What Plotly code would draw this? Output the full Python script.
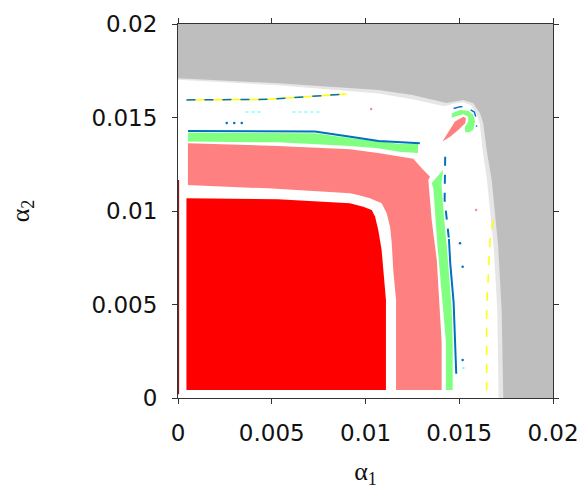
import plotly.graph_objects as go

# ---- region boundaries (alpha1, alpha2) ----
white_x = [0, 0, 0.00533, 0.0107, 0.0125, 0.01433, 0.01468, 0.01522, 0.01575, 0.01611,
           0.01628, 0.01637, 0.01646, 0.01673, 0.01707, 0.01726, 0.01735, 0.01735]
white_y = [0, 0.0171, 0.01683, 0.01647, 0.0162, 0.01578, 0.01584, 0.01594, 0.01576, 0.01522,
           0.01469, 0.01397, 0.01326, 0.01166, 0.00818, 0.00471, 0.0002, 0]

clear_x = [0, 0, 0.00533, 0.0107, 0.0125, 0.0142, 0.01468, 0.01522, 0.01565, 0.01595,
           0.0161, 0.01618, 0.01625, 0.01648, 0.01683, 0.01703, 0.0171, 0.0171]
clear_y = [0, 0.01702, 0.01672, 0.01628, 0.01598, 0.0156, 0.01574, 0.01582, 0.01564, 0.01515,
           0.01462, 0.01392, 0.01322, 0.01164, 0.00816, 0.0047, 0.0002, 0]

green_top_x = [0.00053, 0.0073, 0.00917, 0.01067, 0.0118, 0.0128,
               0.0128, 0.0118, 0.01067, 0.00917, 0.0080, 0.00533, 0.00053]
green_top_y = [0.01419, 0.01416, 0.0139, 0.01372, 0.0136, 0.01358,
               0.0131, 0.01317, 0.01335, 0.01347, 0.01353, 0.01367, 0.01371]

green_right_x = [0.01415, 0.01405, 0.0142, 0.01433, 0.0146, 0.01465, 0.01465,
                 0.01429, 0.01429, 0.01413, 0.01381, 0.01362, 0.01353]
green_right_y = [0.0122, 0.0115, 0.0095, 0.0082, 0.0047, 0.003, 0.00043,
                 0.00043, 0.003, 0.0047, 0.0085, 0.0112, 0.0115]

pink_x = [0.00053, 0.00053, 0.00533, 0.0080, 0.00917, 0.01067, 0.0118, 0.01255, 0.013,
          0.01344, 0.01335, 0.01353, 0.0138, 0.01397, 0.01406, 0.01406]
pink_y = [0.00043, 0.01362, 0.01348, 0.01335, 0.0133, 0.0131, 0.0129, 0.0128, 0.01228,
          0.01183, 0.01166, 0.0095, 0.0074, 0.0047, 0.003, 0.00043]

gap_x = [0.00045, 0.00045, 0.0048, 0.0080, 0.00917, 0.0096, 0.01024, 0.01086, 0.01113,
         0.01131, 0.0114, 0.01148, 0.01163, 0.01163]
gap_y = [0.00043, 0.01139, 0.01121, 0.01103, 0.01095, 0.01086, 0.01068, 0.01041, 0.00988,
         0.00916, 0.00827, 0.00684, 0.00524, 0.00043]

red_x = [0.00045, 0.00045, 0.00533, 0.00747, 0.00917, 0.00988, 0.01033, 0.01051, 0.01068,
         0.01086, 0.01095, 0.01109, 0.01109]
red_y = [0.00043, 0.01068, 0.01063, 0.0105, 0.01041, 0.01023, 0.01005, 0.0097, 0.00898,
         0.00791, 0.00684, 0.00524, 0.00043]

blob_x = [0.01412, 0.01477, 0.01522, 0.01536, 0.01531, 0.01495, 0.01451, 0.01415]
blob_y = [0.01374, 0.01478, 0.01504, 0.01496, 0.01469, 0.01433, 0.01397, 0.01374]

cres_x = [0.0146, 0.01504, 0.01548, 0.01575, 0.01584, 0.01575, 0.01553, 0.01531,
          0.01531, 0.01548, 0.01548, 0.01522, 0.01488, 0.0146]
cres_y = [0.01522, 0.0154, 0.01536, 0.01513, 0.01478, 0.01433, 0.01421, 0.01421,
          0.01451, 0.01478, 0.01504, 0.01517, 0.01508, 0.01499]

# thin curves
blue_top_x = [0.00053, 0.0073, 0.0092, 0.0107, 0.0129]
blue_top_y = [0.01428, 0.01425, 0.01397, 0.01375, 0.01362]
blue_v_top_x = [0.01425, 0.01425, 0.01422, 0.01445]
blue_v_top_y = [0.0129, 0.0118, 0.0106, 0.0085]
blue_v_low_x = [0.01445, 0.01452, 0.0147, 0.01484]
blue_v_low_y = [0.0085, 0.0072, 0.0051, 0.0013]
blue_arc_x = [0.0147, 0.01505, 0.01535, 0.0158, 0.01593, 0.01592]
blue_arc_y = [0.01548, 0.01558, 0.01555, 0.0153, 0.0149, 0.0145]
yellow_top_x = [0.00045, 0.0048, 0.009]
yellow_top_y = [0.01594, 0.01597, 0.01626]
yellow_v_x = [0.0168, 0.01664, 0.01646, 0.01646]
yellow_v_y = [0.0095, 0.0084, 0.0047, 0.0004]
cyan_x = [0.0036, 0.0044, None, 0.0061, 0.0076]
cyan_y = [0.01529, 0.01529, None, 0.01529, 0.01529]
dots_x = [0.0026, 0.0030, 0.0034, 0.01504, 0.01518, 0.01518, 0.01522, 0.0159, 0.0103]
dots_y = [0.0147, 0.0147, 0.0147, 0.00827, 0.00702, 0.00203, 0.0016, 0.01005, 0.01545]
dots_c = ["#0070c0", "#0070c0", "#0070c0", "#0070c0", "#0070c0", "#0070c0", "#80ffff",
          "#ff80c0", "#ff80c0"]
edge_x = [0.00002, 0.00002]
edge_y = [0.0002, 0.01166]

GRAY = "#bebebe"
SPECKLE = "#e6e6e6"
WHITE = "#ffffff"
GREEN = "#80ff80"
PINK = "#ff8080"
RED = "#ff0000"
BLUE = "#0070c0"
YELLOW = "#ffff00"
CYAN = "#80ffff"

fig = go.Figure()


def poly(x, y, color):
    fig.add_trace(go.Scatter(x=x, y=y, fill="toself", fillcolor=color, mode="lines",
                             line=dict(width=0, color=color), hoverinfo="skip",
                             showlegend=False))


def curve(x, y, color, width=2, dash="solid"):
    fig.add_trace(go.Scatter(x=x, y=y, mode="lines", line=dict(width=width, color=color, dash=dash),
                             hoverinfo="skip", showlegend=False))


poly(white_x, white_y, SPECKLE)
poly(clear_x, clear_y, WHITE)
curve(yellow_top_x, yellow_top_y, YELLOW, 1.5)
curve(yellow_top_x, yellow_top_y, BLUE, 1.5, "dash")
curve(cyan_x, cyan_y, CYAN, 1.5, "dot")
poly(green_top_x, green_top_y, GREEN)
poly(green_right_x, green_right_y, GREEN)
poly(pink_x, pink_y, PINK)
poly(gap_x, gap_y, WHITE)
poly(red_x, red_y, RED)
poly(cres_x, cres_y, GREEN)
poly(blob_x, blob_y, PINK)
curve(blue_top_x, blue_top_y, BLUE, 2)
curve(blue_v_top_x, blue_v_top_y, BLUE, 2, "dash")
curve(blue_v_low_x, blue_v_low_y, BLUE, 2)
curve(blue_arc_x, blue_arc_y, BLUE, 1.5, "dash")
curve(yellow_v_x, yellow_v_y, YELLOW, 1.5, "dash")
fig.add_trace(go.Scatter(x=dots_x, y=dots_y, mode="markers",
                         marker=dict(size=2.5, color=dots_c, line=dict(width=0)),
                         hoverinfo="skip", showlegend=False))
curve(edge_x, edge_y, "#8b1a1a", 1.5)

tick_vals = [0, 0.005, 0.01, 0.015, 0.02]
tick_text = ["0", "0.005", "0.01", "0.015", "0.02"]

axis_common = dict(range=[0, 0.02], tickvals=tick_vals, ticktext=tick_text,
                   showgrid=False, zeroline=False, showline=True, linecolor="#333333",
                   linewidth=1.2, mirror="ticks", ticks="outside", ticklen=5,
                   tickcolor="#333333", tickwidth=1.2, automargin=False,
                   tickfont=dict(family="DejaVu Sans", size=23, color="#111111"))

fig.update_layout(
    width=586, height=489,
    margin=dict(l=178, r=33, t=24, b=91),
    paper_bgcolor="white", plot_bgcolor=GRAY,
    xaxis=dict(**axis_common, ticklabelstandoff=9,
               title=dict(text="α<sub>1</sub>", standoff=29,
                          font=dict(family="Liberation Serif", size=26, color="#111111"))),
    yaxis=dict(**axis_common, ticklabelstandoff=10,
               title=dict(text="α<sub>2</sub>", standoff=54,
                          font=dict(family="Liberation Serif", size=26, color="#111111"))),
)

fig.write_html("out.html")
